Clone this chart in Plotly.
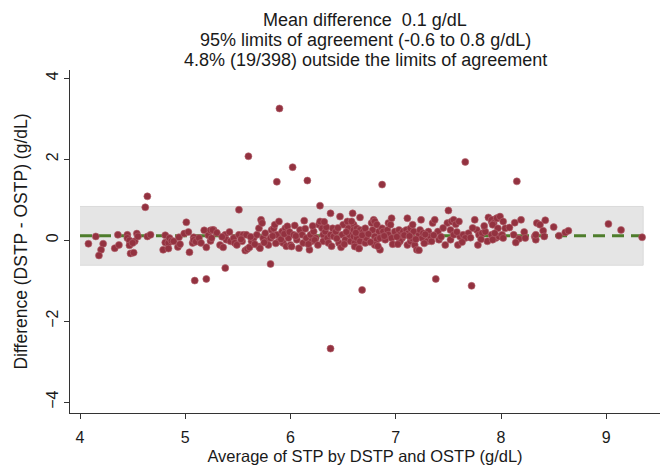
import plotly.graph_objects as go

# Bland-Altman summary values
mean_diff = 0.105
loa_low = -0.62
loa_high = 0.83
band_x = [4.0, 9.35]

# (average, difference) pairs
outliers = [
    (5.895, 3.25), (5.60, 2.07), (6.02, 1.80), (5.87, 1.44), (6.16, 1.47),
    (6.87, 1.37), (7.66, 1.93), (8.15, 1.45), (4.64, 1.08), (4.62, 0.81),
    (5.09, -1.00), (5.20, -0.96), (5.38, -0.69), (5.81, -0.59), (6.38, -2.68),
    (6.68, -1.23), (7.38, -0.96), (7.72, -1.13),
]
seg_4_5 = [
    (4.08, -0.09), (4.15, 0.09), (4.22, -0.09), (4.20, -0.24), (4.18, -0.38),
    (4.33, -0.20), (4.37, -0.12), (4.36, 0.13), (4.45, 0.13), (4.45, 0.05),
    (4.47, -0.01), (4.47, -0.13), (4.48, -0.33), (4.51, -0.31), (4.52, -0.03),
    (4.50, -0.07), (4.54, 0.16), (4.55, 0.09), (4.64, 0.09), (4.67, 0.13),
    (4.79, -0.24), (4.81, 0.12), (4.81, -0.06), (4.84, -0.07), (4.85, 0.05),
    (4.87, -0.02), (4.89, -0.03), (4.84, -0.21), (4.93, -0.17), (4.94, 0.07),
    (4.95, -0.10), (4.99, 0.16), (5.01, 0.44), (5.03, 0.20), (5.04, -0.30),
    (5.07, -0.07), (5.08, 0.07), (5.08, 0.00), (5.10, -0.04), (5.13, 0.05),
    (5.15, -0.07), (5.18, 0.24), (5.20, -0.18), (5.22, 0.12), (5.24, -0.02),
    (5.24, 0.24), (5.27, 0.25),
]
seg_5_6 = [
    (5.26, 0.25), (5.25, 0.05), (5.33, -0.12), (5.36, -0.18), (5.38, 0.13),
    (5.39, 0.01), (5.43, -0.03), (5.46, 0.05), (5.51, 0.75), (5.47, -0.07),
    (5.51, 0.13), (5.54, -0.03), (5.55, 0.13), (5.57, -0.26), (5.59, -0.22),
    (5.61, -0.18), (5.58, 0.13), (5.63, -0.03), (5.65, 0.05), (5.68, 0.13),
    (5.70, -0.16), (5.71, -0.20), (5.70, 0.29), (5.72, 0.50), (5.73, 0.42),
    (5.74, 0.05), (5.76, 0.17), (5.77, -0.03), (5.81, 0.05), (5.82, 0.25),
    (5.84, 0.29), (5.85, 0.38), (5.87, 0.13), (5.89, 0.46), (5.89, -0.03),
    (5.92, 0.21), (5.93, -0.07), (5.95, 0.29), (5.97, 0.34), (5.98, 0.05),
    (5.30, 0.18), (5.35, 0.08), (5.42, 0.20), (5.49, -0.12), (5.53, 0.02),
    (5.62, 0.08), (5.66, -0.10), (5.79, -0.12), (5.83, 0.10), (5.86, -0.08),
    (5.91, 0.02), (5.94, 0.15), (5.96, -0.15), (5.99, 0.20), (5.75, -0.06),
]
seg_6_7 = [
    (6.00, -0.12), (6.01, -0.16), (6.03, 0.13), (6.04, 0.36), (6.06, 0.01),
    (6.08, -0.20), (6.09, 0.25), (6.11, 0.13), (6.12, -0.07), (6.13, 0.48),
    (6.15, 0.05), (6.18, -0.24), (6.19, 0.13), (6.20, -0.03), (6.22, 0.21),
    (6.24, 0.05), (6.27, 0.38), (6.28, 0.46), (6.28, 0.85), (6.30, 0.29),
    (6.31, 0.13), (6.31, -0.03), (6.33, 0.21), (6.35, 0.05), (6.36, -0.07),
    (6.38, 0.13), (6.38, 0.66), (6.40, 0.29), (6.41, 0.09), (6.43, 0.21),
    (6.46, -0.07), (6.47, 0.58), (6.49, 0.13), (6.50, 0.38), (6.52, 0.01),
    (6.54, 0.46), (6.55, 0.29), (6.56, 0.13), (6.57, -0.03), (6.59, 0.66),
    (6.60, 0.38), (6.61, -0.07), (6.63, 0.09), (6.65, -0.20), (6.66, 0.56),
    (6.58, 0.46), (6.60, 0.25), (6.63, 0.29), (6.66, 0.25), (6.69, 0.21),
    (6.71, 0.29), (6.60, 0.09), (6.63, 0.05), (6.66, -0.03), (6.61, -0.16),
    (6.65, -0.21), (6.71, -0.07), (6.72, 0.05), (6.77, 0.42), (6.79, 0.50),
    (6.80, 0.46), (6.78, 0.25), (6.82, 0.38), (6.84, 0.21), (6.80, 0.09),
    (6.82, 0.01), (6.80, -0.12), (6.85, -0.24), (6.85, 0.05), (6.87, 0.29),
    (6.88, 0.21), (6.92, 0.25), (6.93, 0.42), (6.95, 0.38), (6.96, 0.54),
    (6.90, 0.01), (6.93, 0.13), (6.96, 0.05), (6.99, 0.21), (6.05, 0.10),
    (6.14, 0.28), (6.17, -0.10), (6.23, 0.00), (6.26, -0.12), (6.34, 0.32),
    (6.39, -0.15), (6.44, 0.04), (6.48, -0.18), (6.53, 0.20), (6.62, 0.18),
    (6.68, 0.12), (6.74, 0.15), (6.76, -0.05), (6.83, -0.15), (6.89, 0.10),
    (6.97, -0.10), (6.21, 0.35), (6.32, 0.45), (6.45, 0.30), (6.51, -0.10),
]
seg_7_8 = [
    (7.03, 0.25), (7.04, 0.13), (7.06, 0.05), (7.04, -0.03), (7.07, 0.21),
    (7.11, 0.54), (7.10, 0.25), (7.12, 0.17), (7.14, 0.29), (7.11, -0.12),
    (7.14, -0.03), (7.15, 0.05), (7.17, 0.21), (7.18, -0.12), (7.20, -0.24),
    (7.22, -0.25), (7.22, 0.13), (7.23, 0.25), (7.24, 0.50), (7.25, 0.05),
    (7.26, 0.17), (7.30, -0.03), (7.31, 0.21), (7.33, 0.09), (7.35, 0.42),
    (7.37, 0.50), (7.34, -0.03), (7.40, 0.21), (7.41, 0.01), (7.47, -0.12),
    (7.49, 0.42), (7.50, 0.73), (7.52, 0.25), (7.53, 0.46), (7.55, 0.50),
    (7.57, 0.39), (7.60, 0.46), (7.59, -0.12), (7.52, 0.01), (7.55, 0.13),
    (7.61, 0.09), (7.64, 0.13), (7.69, 0.17), (7.66, 0.05), (7.75, 0.50),
    (7.77, 0.25), (7.79, 0.13), (7.78, -0.12), (7.82, 0.17), (7.85, 0.21),
    (7.87, -0.03), (7.88, 0.56), (7.91, 0.46), (7.93, 0.50), (7.96, 0.54),
    (7.91, 0.13), (7.95, 0.05), (7.98, 0.09), (7.01, 0.08), (7.08, 0.12),
    (7.13, 0.10), (7.19, 0.02), (7.28, 0.14), (7.36, 0.12), (7.43, 0.08),
    (7.45, 0.30), (7.58, 0.20), (7.63, -0.05), (7.71, 0.06), (7.73, 0.30),
    (7.81, 0.02), (7.84, 0.35), (7.02, -0.10), (7.16, 0.38), (7.27, -0.08),
]
seg_8_plus = [
    (7.91, 0.50), (7.93, 0.42), (7.96, 0.54), (7.99, 0.58), (8.02, 0.46),
    (7.92, 0.38), (7.97, 0.29), (8.04, 0.29), (8.08, 0.31), (8.13, 0.43),
    (8.19, 0.50), (7.94, 0.17), (8.01, 0.13), (8.02, 0.05), (7.92, 0.01),
    (8.12, 0.13), (8.17, 0.03), (8.14, -0.06), (8.22, 0.20), (8.23, 0.05),
    (8.32, 0.09), (8.33, 0.01), (8.34, 0.42), (8.37, 0.38), (8.40, 0.23),
    (8.42, 0.49), (8.41, 0.09), (8.50, 0.32), (8.55, 0.11), (8.61, 0.19),
    (8.64, 0.23), (8.33, 0.13), (9.02, 0.40), (9.14, 0.25), (9.34, 0.07),
]

points = outliers + seg_4_5 + seg_5_6 + seg_6_7 + seg_7_8 + seg_8_plus
avg = [p[0] for p in points]
diff = [p[1] for p in points]

title_lines = [
    "Mean difference  0.1 g/dL",
    "95% limits of agreement (-0.6 to 0.8 g/dL)",
    "4.8% (19/398) outside the limits of agreement",
]
x_ticks = [4, 5, 6, 7, 8, 9]
y_ticks = [-4, -2, 0, 2, 4]

fig = go.Figure()

fig.add_trace(go.Scatter(
    x=band_x + band_x[::-1], y=[loa_high, loa_high, loa_low, loa_low],
    fill="toself", fillcolor="#e5e5e5", line=dict(color="#dadada", width=1),
    mode="lines", hoverinfo="skip", showlegend=False,
))
fig.add_trace(go.Scatter(
    x=band_x, y=[mean_diff, mean_diff], mode="lines",
    line=dict(color="#4e7d2c", width=3, dash="12px,7px"), showlegend=False,
))
fig.add_trace(go.Scatter(
    x=avg, y=diff, mode="markers",
    marker=dict(color="#933240", size=7, line=dict(color="#b4646e", width=0.6)),
    showlegend=False,
))

font = dict(family="Liberation Sans, Arial, sans-serif", color="#1a1a1a")

plot_top, plot_bottom = 70, 413
for i, line in enumerate(title_lines):
    py = 20 + 20 * i
    fig.add_annotation(
        text=line, xref="paper", yref="paper", x=0.5,
        y=(plot_bottom - py) / (plot_bottom - plot_top),
        xanchor="center", yanchor="middle", showarrow=False,
        font=dict(size=18, **font),
    )

fig.update_layout(
    width=660, height=470,
    margin=dict(l=70, r=0, t=plot_top, b=470 - plot_bottom),
    paper_bgcolor="white", plot_bgcolor="white",
    font=dict(size=16, **font),
    showlegend=False,
)
fig.update_xaxes(
    range=[3.905, 9.51], tickvals=x_ticks, ticks="outside", ticklen=5,
    tickcolor="#333", showline=True, linecolor="#333", linewidth=1,
    showgrid=False, zeroline=False, ticklabelstandoff=5,
    title=dict(text="Average of STP by DSTP and OSTP (g/dL)", standoff=5,
               font=dict(size=16.5)),
    tickfont=dict(size=16),
)
fig.update_yaxes(
    range=[-4.27, 4.2], tickvals=y_ticks, ticks="outside", ticklen=5,
    tickcolor="#333", showline=True, linecolor="#333", linewidth=1,
    showgrid=False, zeroline=False, tickangle=-90,
    title=dict(text="Difference (DSTP - OSTP) (g/dL)", standoff=11,
               font=dict(size=17.5)),
    tickfont=dict(size=16),
)

fig.write_html("out.html", post_script="document.body.style.margin='0';",
               config={"displayModeBar": False})
